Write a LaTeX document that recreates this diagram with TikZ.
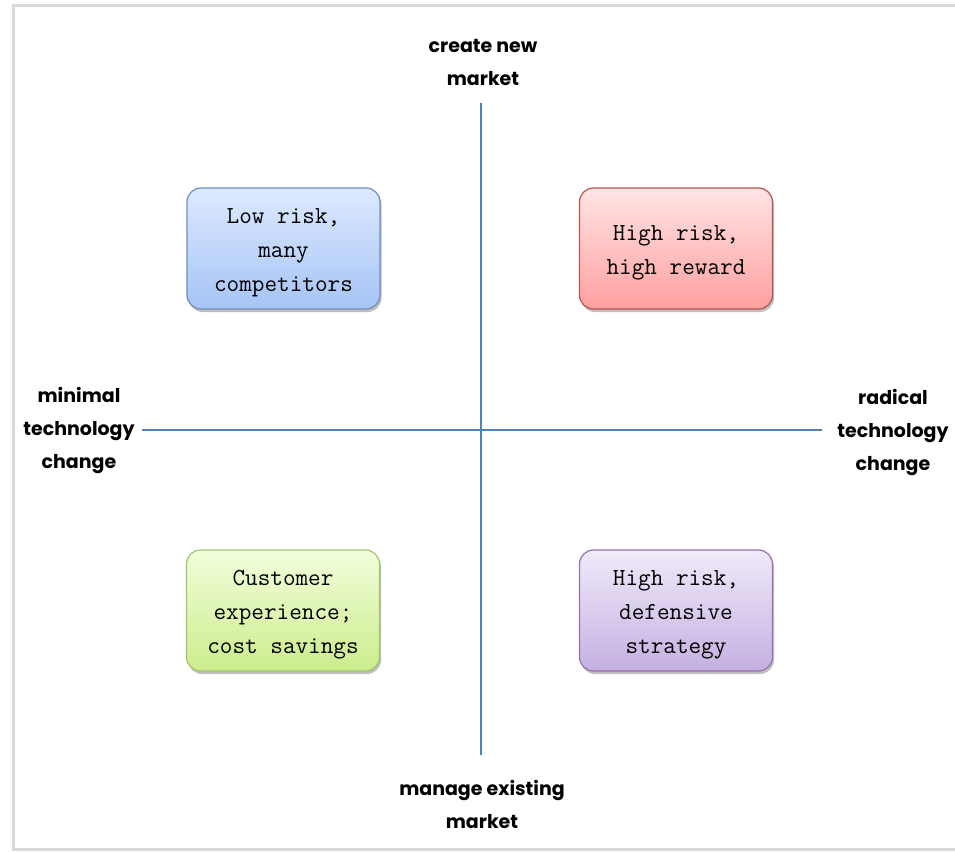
\documentclass[tikz,border=0pt]{standalone}
\usepackage{fontspec}
\newfontfamily\labfont{Poppins}
\usetikzlibrary{shadows}
\definecolor{axisblue}{RGB}{79,129,189}
\definecolor{framegray}{RGB}{217,217,217}
\newcommand{\tfix}{\rule{0pt}{24pt}}
\tikzset{
  quad/.style={draw, line width=1.2pt, rounded corners=14pt, minimum width=193pt, minimum height=121pt,
    align=center, inner sep=0pt, font=\ttfamily\fontsize{24.5}{34}\selectfont,
    drop shadow={shadow xshift=1.5pt, shadow yshift=-3pt, opacity=0.25, fill=black}},
  axislab/.style={align=center, inner sep=0pt, font=\labfont\bfseries\fontsize{19}{33}\selectfont},
  axisline/.style={draw=axisblue, line width=1.3pt}
}
\begin{document}
\begin{tikzpicture}[x=1pt,y=-1pt]
\useasboundingbox (0,0) rectangle (955,851);
\fill[white] (0,0) rectangle (955,851);
\draw[framegray, line width=3pt] (956,6) -- (13,6) -- (13,849) -- (956,849);
% axes
\coordinate (top) at (481,103);
\coordinate (bot) at (481,755);
\coordinate (lft) at (142,430);
\coordinate (rgt) at (822,430);
\draw[axisline] (top) -- (bot);
\draw[axisline] (lft) -- (rgt);
% labels
\node[axislab] (ltop) at (483,62) {create new\\market};
\node[axislab] (lbot) at (482,804) {manage existing\\market};
\node[axislab] (llft) at (79,430) {minimal\\technology\\change};
\node[axislab] (lrgt) at (893,432) {radical\\technology\\change};
% boxes
\node[quad, draw={rgb,255:red,108;green,142;blue,191}, top color={rgb,255:red,221;green,233;blue,255}, bottom color={rgb,255:red,166;green,196;blue,245}] (lowrisk) at (283.5,248.5) {\tfix Low risk,\\many\\competitors};
\node[quad, draw={rgb,255:red,184;green,84;blue,80}, top color={rgb,255:red,255;green,228;blue,228}, bottom color={rgb,255:red,255;green,160;blue,160}] (highreward) at (676,248.5) {\tfix High risk,\\high reward};
\node[quad, draw={rgb,255:red,160;green,196;blue,110}, top color={rgb,255:red,242;green,255;blue,220}, bottom color={rgb,255:red,204;green,236;blue,140}] (customer) at (283,610.5) {\tfix Customer\\experience;\\cost savings};
\node[quad, draw={rgb,255:red,150;green,115;blue,166}, top color={rgb,255:red,240;green,234;blue,250}, bottom color={rgb,255:red,196;green,176;blue,225}] (defensive) at (676,610.5) {\tfix High risk,\\defensive\\strategy};
\end{tikzpicture}
\end{document}
